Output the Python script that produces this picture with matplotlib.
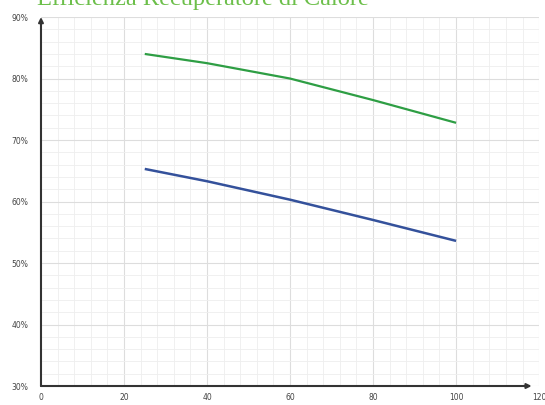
import matplotlib.pyplot as plt
from matplotlib.ticker import MultipleLocator, FuncFormatter

# dati
carico = [25, 40, 60, 80, 100]
eff_verde = [84.0, 82.5, 80.0, 76.5, 72.8]
eff_blu = [65.3, 63.3, 60.3, 57.0, 53.6]

title = "Efficienza Recuperatore di Calore"

fig = plt.figure(figsize=(5.45, 4.05), dpi=100)
ax = fig.add_axes([0.0752, 0.0469, 0.914, 0.911])

ax.plot(carico, eff_verde, color="#2e9e44", lw=1.6, solid_capstyle="butt")
ax.plot(carico, eff_blu, color="#34519b", lw=1.8, solid_capstyle="butt")

ax.set_xlim(0, 120)
ax.set_ylim(30, 90)
ax.xaxis.set_major_locator(MultipleLocator(20))
ax.xaxis.set_minor_locator(MultipleLocator(4))
ax.yaxis.set_major_locator(MultipleLocator(10))
ax.yaxis.set_minor_locator(MultipleLocator(2))
ax.yaxis.set_major_formatter(FuncFormatter(lambda v, _: f"{v:.0f}%"))

ax.grid(which="major", color="#dddddd", lw=0.8)
ax.grid(which="minor", color="#eeeeee", lw=0.6)
ax.set_axisbelow(True)

for s in ax.spines.values():
    s.set_visible(False)

ax.tick_params(which="both", length=0, labelsize=5.5, labelcolor="#444444")
ax.tick_params(axis="x", pad=5)
ax.tick_params(axis="y", pad=9)

# assi con freccia
ax.annotate("", xy=(0.985, 0), xytext=(0, 0), xycoords="axes fraction",
            arrowprops=dict(arrowstyle="-|>", color="#333333", lw=1.5,
                            mutation_scale=7, shrinkA=0, shrinkB=0))
ax.annotate("", xy=(0, 1.0), xytext=(0, 0), xycoords="axes fraction",
            arrowprops=dict(arrowstyle="-|>", color="#333333", lw=1.5,
                            mutation_scale=7, shrinkA=0, shrinkB=0))

fig.text(0.068, 0.988, title, color="#6cbf4a", fontsize=17.6,
         family="Liberation Serif", ha="left", va="baseline")

fig.savefig("out.png", dpi=100)
